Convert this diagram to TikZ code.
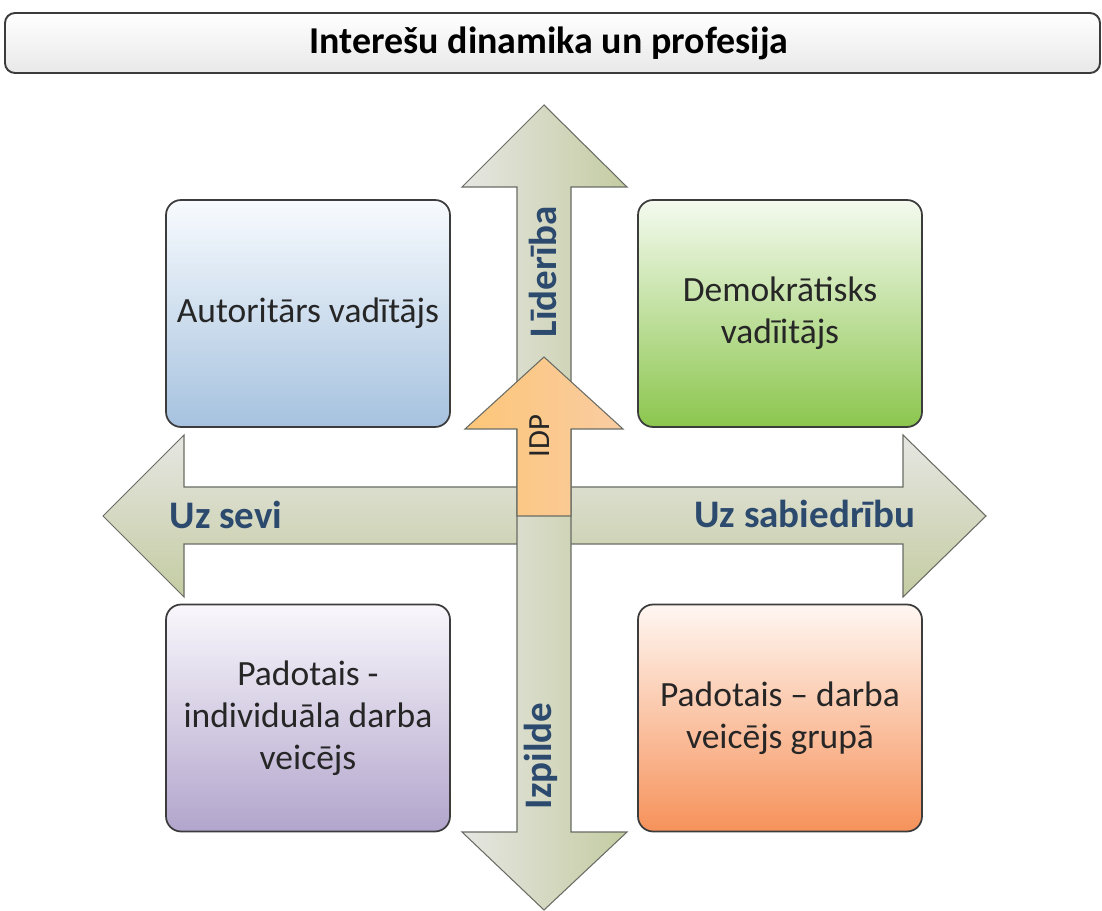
\documentclass[tikz,border=0pt]{standalone}
\usepackage{fontspec}
\setmainfont{Carlito}
\definecolor{boxline}{RGB}{60,60,60}
\definecolor{arrowline}{RGB}{105,108,100}
\definecolor{axistext}{RGB}{44,74,110}
\definecolor{axislight}{RGB}{230,230,226}
\definecolor{axisdark}{RGB}{196,204,162}
\definecolor{idpleft}{RGB}{253,198,120}
\definecolor{idpright}{RGB}{249,204,162}
\definecolor{bluetop}{RGB}{248,251,254}
\definecolor{bluebot}{RGB}{166,194,223}
\definecolor{greentop}{RGB}{244,250,239}
\definecolor{greenbot}{RGB}{140,198,78}
\definecolor{violettop}{RGB}{249,247,252}
\definecolor{violetbot}{RGB}{178,165,204}
\definecolor{orangetop}{RGB}{255,247,242}
\definecolor{orangebot}{RGB}{246,146,90}

\begin{document}
\begin{tikzpicture}[x=0.02cm, y=-0.02cm,
    quadbox/.style={draw=boxline, line width=1pt, rounded corners=0.3cm,
      minimum width=5.68cm, minimum height=4.54cm, align=center,
      text=black!85, font=\fontsize{20.2}{24}\selectfont},
    axislabel/.style={text=axistext, inner sep=0pt,
      font=\fontsize{22.2}{26}\selectfont\bfseries},
    axisarrow/.style={draw=arrowline, line width=0.6pt}]
    \useasboundingbox (0,0) rectangle (1102,911);
    % Title bar
    \shadedraw[draw=boxline, line width=1.1pt, rounded corners=0.2cm,
      top color=white, bottom color=black!9] (5,13) rectangle (1100,73);
    \node[font=\fontsize{21.6}{26}\selectfont\bfseries, inner sep=0pt] (title) at (549,43) {Interešu dinamika un profesija};
    % Horizontal double arrow (Uz sevi / Uz sabiedribu)
    \shadedraw[axisarrow, top color=axislight, bottom color=axisdark]
      (103,516) -- (184,435) -- (184,487) -- (903,487) -- (903,435) -- (986,516)
      -- (903,597) -- (903,544) -- (184,544) -- (184,597) -- cycle;
    % Vertical double arrow (Liderība / Izpilde), drawn on top
    \shadedraw[axisarrow, left color=axislight, right color=axisdark]
      (544,105) -- (627,187) -- (571,187) -- (571,832) -- (627,832) -- (544,910)
      -- (462,832) -- (517,832) -- (517,187) -- (462,187) -- cycle;
    % IDP arrow
    \shadedraw[axisarrow, left color=idpleft, right color=idpright]
      (544,357) -- (623,429) -- (571,429) -- (571,516) -- (517,516)
      -- (517,429) -- (465,429) -- cycle;
    % Axis labels
    \node[axislabel] (sevi) at (226,515) {Uz sevi};
    \node[axislabel] (sabiedr) at (805,514) {Uz sabiedrību};
    \node[axislabel, rotate=90] (lider) at (543,272) {Līderība};
    \node[axislabel, rotate=90] (izpilde) at (541,756) {Izpilde};
    \node[rotate=90, inner sep=0pt, text=black!85, font=\fontsize{17.5}{20}\selectfont] (idp) at (540,436) {IDP};
    % Quadrant boxes
    \node[quadbox, top color=bluetop, bottom color=bluebot] (autbox) at (308,313.5) {Autoritārs vadītājs};
    \node[quadbox, top color=greentop, bottom color=greenbot] (dembox) at (780,313.5) {Demokrātisks\\vadīitājs};
    \node[quadbox, top color=violettop, bottom color=violetbot] (indbox) at (308,718) {Padotais -\\individuāla darba\\veicējs};
    \node[quadbox, top color=orangetop, bottom color=orangebot] (grpbox) at (780,718) {Padotais – darba\\veicējs grupā};
\end{tikzpicture}
\end{document}
